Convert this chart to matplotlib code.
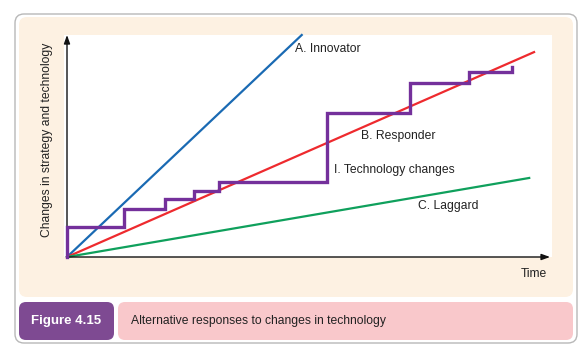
import matplotlib
matplotlib.use("Agg")
import matplotlib.pyplot as plt
from matplotlib.patches import FancyBboxPatch, Rectangle

plt.rcParams['font.family'] = ['Liberation Sans', 'DejaVu Sans']

# data (0-100 scale on both axes)
innovator_x = [0, 48.4]
innovator_y = [0, 100]
responder_x = [0, 96.3]
responder_y = [0, 92.3]
laggard_x = [0, 95.3]
laggard_y = [0, 35.6]
# technology changes: step positions and levels
tech_x = [0, 11.8, 20.2, 26.2, 31.3, 53.6, 70.7, 82.9, 91.8, 91.8]
tech_y = [0, 13.5, 21.6, 26.1, 29.7, 33.8, 64.9, 78.4, 83.3, 85.6]

W, H = 588, 355
fig = plt.figure(figsize=(W / 100, H / 100), dpi=100)

# background layer in pixel coordinates
bg = fig.add_axes([0, 0, 1, 1])
bg.set_xlim(0, W)
bg.set_ylim(H, 0)
bg.axis('off')

def rbox(x0, y0, x1, y1, fc, ec='none', lw=0, r=6):
    p = FancyBboxPatch((x0, y1), x1 - x0, y0 - y1,
                       boxstyle=f"round,pad=0,rounding_size={r}",
                       facecolor=fc, edgecolor=ec, linewidth=lw)
    # y axis is inverted, so give the patch its lower-left in data terms
    p.set_bounds(x0, y0, x1 - x0, y1 - y0)
    bg.add_patch(p)

rbox(15, 14, 577, 343, 'white', ec='#b8b8b8', lw=1.0, r=9)
rbox(19, 17, 573, 297, '#fdf1e2', r=8)
bg.add_patch(Rectangle((64, 35), 552 - 64, 257 - 35, facecolor='white', edgecolor='none'))
rbox(19, 302, 114, 340, '#7e4a92', r=7)
rbox(118, 302, 573, 340, '#f9c8cb', r=7)

bg.text(66, 321, "Figure 4.15", color='white', fontsize=9.5, fontweight='bold',
        ha='center', va='center')
bg.text(131, 321, "Alternative responses to changes in technology", color='#222222',
        fontsize=8.7, ha='left', va='center')
bg.text(547, 274, "Time", color='#222222', fontsize=8.7, ha='right', va='center')
bg.text(47, 140, "Changes in strategy and technology", color='#222222', fontsize=8.7,
        rotation=90, ha='center', va='center')

# main plot area
ax = fig.add_axes([67 / W, (H - 257) / H, (552 - 67) / W, (257 - 35) / H])
ax.set_xlim(0, 100)
ax.set_ylim(0, 100)
ax.patch.set_alpha(0)
for s in ax.spines.values():
    s.set_visible(False)
ax.set_xticks([])
ax.set_yticks([])

ax.plot(innovator_x, innovator_y, color='#1a6ab3', lw=1.6, clip_on=False, zorder=3)
ax.plot(responder_x, responder_y, color='#ee2a2e', lw=1.6, clip_on=False, zorder=3)
ax.plot(laggard_x, laggard_y, color='#0fa05c', lw=1.6, clip_on=False, zorder=3)
ax.plot(tech_x, tech_y, drawstyle='steps-pre', color='#74309b', lw=2.4,
        clip_on=False, zorder=4, solid_joinstyle='miter')

# axes with arrows
arrow = dict(arrowstyle='-|>,head_length=0.5,head_width=0.18', color='#111111',
             lw=1.0, shrinkA=0, shrinkB=0)
ax.annotate('', xy=(0, 100), xytext=(0, 0), arrowprops=arrow, annotation_clip=False)
ax.annotate('', xy=(99.6, 0), xytext=(0, 0), arrowprops=arrow, annotation_clip=False)

ax.text(47.0, 93.7, "A. Innovator", fontsize=8.7, color='#222222', va='center')
ax.text(60.6, 54.5, "B. Responder", fontsize=8.7, color='#222222', va='center')
ax.text(55.1, 39.2, "I. Technology changes", fontsize=8.7, color='#222222', va='center')
ax.text(72.4, 23.0, "C. Laggard", fontsize=8.7, color='#222222', va='center')

fig.savefig('out.png', dpi=100)
